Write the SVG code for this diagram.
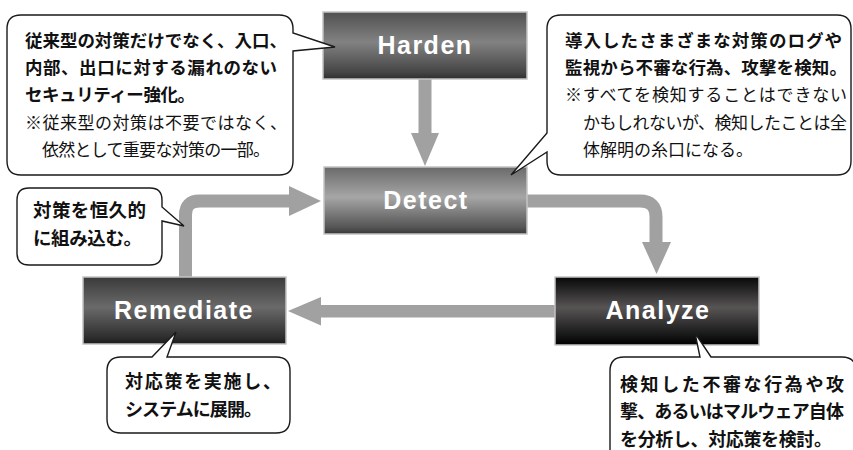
<svg xmlns="http://www.w3.org/2000/svg" width="853" height="450" viewBox="0 0 853 450">
<defs>
<linearGradient id="gH" x1="0" y1="0" x2="0" y2="1"><stop offset="0" stop-color="#505050"/><stop offset="0.45" stop-color="#828282"/><stop offset="0.9" stop-color="#454545"/><stop offset="1" stop-color="#2e2e2e"/></linearGradient>
<linearGradient id="gD" x1="0" y1="0" x2="0" y2="1"><stop offset="0" stop-color="#6a6a6a"/><stop offset="0.45" stop-color="#a6a6a6"/><stop offset="0.9" stop-color="#555555"/><stop offset="1" stop-color="#383838"/></linearGradient>
<linearGradient id="gR" x1="0" y1="0" x2="0" y2="1"><stop offset="0" stop-color="#3a3a3a"/><stop offset="0.45" stop-color="#6a6a6a"/><stop offset="0.9" stop-color="#2e2e2e"/><stop offset="1" stop-color="#1c1c1c"/></linearGradient>
<linearGradient id="gA" x1="0" y1="0" x2="0" y2="1"><stop offset="0" stop-color="#080808"/><stop offset="0.45" stop-color="#575454"/><stop offset="0.9" stop-color="#101010"/><stop offset="1" stop-color="#000000"/></linearGradient>
</defs>
<style>
.box{stroke:#c4c4c4;stroke-width:1.5}
.lbl{font-family:"Liberation Sans",Arial,sans-serif;font-weight:bold;font-size:25px;letter-spacing:1.5px;fill:#ffffff;text-anchor:middle}
.call{fill:#ffffff;stroke:#1a1a1a;stroke-width:1.4;stroke-linejoin:miter}
.jb{font-family:"Noto Sans CJK JP","Noto Sans CJK SC",sans-serif;font-weight:bold;font-size:17.5px;fill:#111111}
.jr{font-family:"Noto Sans CJK JP","Noto Sans CJK SC",sans-serif;font-weight:normal;font-size:17px;fill:#111111}
.arr{fill:#a1a1a1}
.arrl{fill:none;stroke:#a1a1a1;stroke-width:13}
</style>
<g id="connectors">
<rect class="arr" x="418.5" y="79" width="13" height="56"/>
<polygon class="arr" points="411,133 439,133 425,166"/>
<rect class="arr" x="318" y="305" width="238" height="12.5"/>
<polygon class="arr" points="321,297 321,325.5 288,311"/>
<path class="arrl" d="M185.5,277 V215 Q185.5,201 199.5,201 H292"/>
<polygon class="arr" points="289,186 289,216 321,201"/>
<path class="arrl" d="M527,201 H640 Q656,201 656,217 V245"/>
<polygon class="arr" points="642,242 671,242 656.5,274"/>
</g>
<g id="harden">
<rect class="box" x="323" y="12" width="204" height="67" fill="url(#gH)"/>
<text class="lbl" x="425" y="54">Harden</text>
</g>
<g id="detect">
<rect class="box" x="324" y="167" width="203" height="67" fill="url(#gD)"/>
<text class="lbl" x="426" y="209">Detect</text>
</g>
<g id="remediate">
<rect class="box" x="83" y="277" width="203" height="67" fill="url(#gR)"/>
<text class="lbl" x="184" y="319">Remediate</text>
</g>
<g id="analyze">
<rect class="box" x="555" y="277" width="204" height="68" fill="url(#gA)"/>
<text class="lbl" x="658" y="319">Analyze</text>
</g>
<g id="note-harden">
<path class="call" d="M21,15 H279 Q293,15 293,29 V33 L335,47 L293,51 V161 Q293,175 279,175 H21 Q7,175 7,161 V29 Q7,15 21,15 Z"/>
<text class="jb" x="25" y="47" textLength="262" lengthAdjust="spacing">従来型の対策だけでなく、入口、</text>
<text class="jb" x="25" y="74" textLength="252" lengthAdjust="spacing">内部、出口に対する漏れのない</text>
<text class="jb" x="25" y="101" textLength="170" lengthAdjust="spacing">セキュリティー強化。</text>
<text class="jr" x="25" y="129" textLength="262" lengthAdjust="spacing">※従来型の対策は不要ではなく、</text>
<text class="jr" x="42" y="156" textLength="228" lengthAdjust="spacing">依然として重要な対策の一部。</text>
</g>
<g id="note-detect">
<path class="call" d="M561,15 H837 Q851,15 851,29 V161 Q851,175 837,175 H561 Q547,175 547,161 V152 L511,175 L547,133 V29 Q547,15 561,15 Z"/>
<text class="jb" x="565" y="47" textLength="277" lengthAdjust="spacing">導入したさまざまな対策のログや</text>
<text class="jb" x="565" y="74" textLength="282" lengthAdjust="spacing">監視から不審な行為、攻撃を検知。</text>
<text class="jr" x="565" y="101" textLength="282" lengthAdjust="spacing">※すべてを検知することはできない</text>
<text class="jr" x="583" y="129" textLength="264" lengthAdjust="spacing">かもしれないが、検知したことは全</text>
<text class="jr" x="583" y="156">体解明の糸口になる。</text>
</g>
<g id="note-permanent">
<path class="call" d="M29,188 H150 Q162,188 162,200 V207 L184,226 L162,221 V253 Q162,265 150,265 H29 Q17,265 17,253 V200 Q17,188 29,188 Z"/>
<text class="jb" x="33" y="217" style="font-size:18.5px" textLength="113" lengthAdjust="spacing">対策を恒久的</text>
<text class="jb" x="33" y="245" style="font-size:18.5px" textLength="109" lengthAdjust="spacing">に組み込む。</text>
</g>
<g id="note-remediate">
<path class="call" d="M121,357 H152 L176,332 L167,357 H276 Q290,357 290,371 V419 Q290,433 276,433 H121 Q107,433 107,419 V371 Q107,357 121,357 Z"/>
<text class="jb" x="125" y="388" style="font-size:18px" textLength="156" lengthAdjust="spacing">対応策を実施し、</text>
<text class="jb" x="125" y="416" style="font-size:18px" textLength="137" lengthAdjust="spacing">システムに展開。</text>
</g>
<g id="note-analyze">
<path class="call" d="M624,357 H700 L695,333 L711,357 H842 Q856,357 856,371 V470 H610 V371 Q610,357 624,357 Z"/>
<text class="jb" x="620" y="391" style="font-size:18px" textLength="224" lengthAdjust="spacing">検知した不審な行為や攻</text>
<text class="jb" x="620" y="418" style="font-size:18px" textLength="224" lengthAdjust="spacing">撃、あるいはマルウェア自体</text>
<text class="jb" x="620" y="446" style="font-size:18px" textLength="212" lengthAdjust="spacing">を分析し、対応策を検討。</text>
</g>
</svg>
